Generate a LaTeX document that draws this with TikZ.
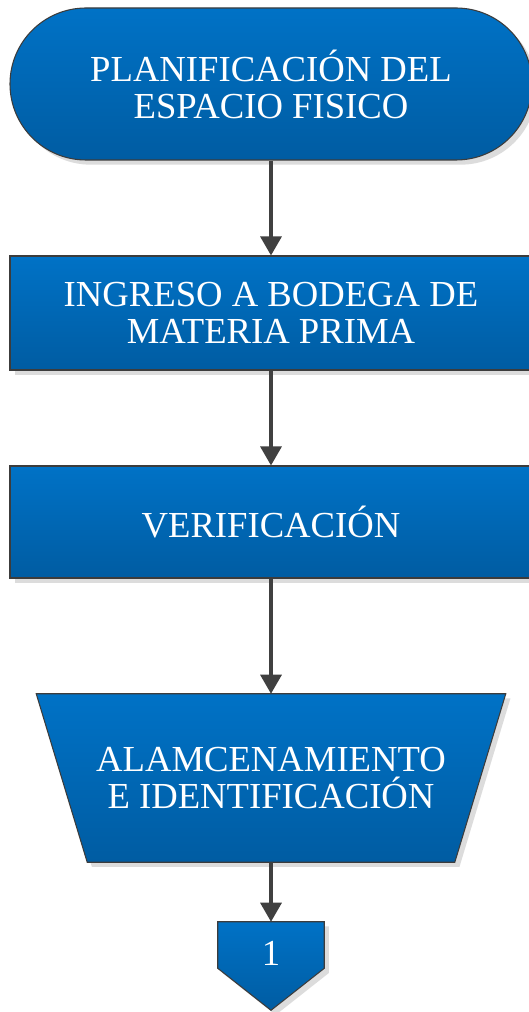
\documentclass[tikz,border=0pt]{standalone}
\usepackage{fontspec}
\setmainfont{Liberation Serif}
\usetikzlibrary{arrows.meta,shadows,backgrounds,calc}
\definecolor{bluetop}{RGB}{0,114,198}
\definecolor{bluebot}{RGB}{0,92,162}
\definecolor{edgegray}{RGB}{60,60,60}
\definecolor{arrowgray}{RGB}{64,64,64}
\definecolor{shadowgray}{RGB}{220,220,220}
\begin{document}
\begin{tikzpicture}[x=0.75pt,y=-0.75pt,
  shp/.style={top color=bluetop,bottom color=bluebot,draw=edgegray,line width=0.8pt,
     drop shadow={shadow xshift=3.5pt,shadow yshift=-3.5pt,fill=shadowgray,opacity=1}},
  lbl/.style={text=white,align=center,font=\fontsize{27.5}{27.75}\selectfont,inner sep=0pt},
  flow/.style={draw=arrowgray,line width=2.4pt,-{Triangle[width=15.75pt,length=14.25pt]}}]
\path[use as bounding box] (0,0) rectangle (528,1012);

\node[shp,lbl,minimum width=391.5pt,minimum height=114pt,rounded corners=57pt] (n1) at (271,84) {PLANIFICACIÓN DEL\\ESPACIO FISICO};
\node[shp,lbl,minimum width=391.5pt,minimum height=85.5pt] (n2) at (271,313) {INGRESO A BODEGA DE\\MATERIA PRIMA};
\node[shp,lbl,minimum width=391.5pt,minimum height=84pt] (n3) at (271,522) {VERIFICACIÓN};
\node[lbl,minimum width=351.75pt,minimum height=126pt] (n4) at (271,778) {ALAMCENAMIENTO\\E IDENTIFICACIÓN};
\node[lbl,minimum width=79.5pt,minimum height=34.5pt] (n5) at (271,945) {\smash{\raisebox{-15pt}{1}}};

\begin{scope}[on background layer]
  \fill[white] (0,0) rectangle (528,1012);
  \path[shp] (n4.north west) -- (n4.north east) -- ($(n4.south east)+(-51,0)$) -- ($(n4.south west)+(51,0)$) -- cycle;
  \path[shp] (n5.north west) -- (n5.north east) -- (n5.south east) -- ($(n5.south)+(0,42)$) -- (n5.south west) -- cycle;
\end{scope}

\draw[flow] (n1.south) -- (n2.north);
\draw[flow] (n2.south) -- (n3.north);
\draw[flow] (n3.south) -- (n4.north);
\draw[flow] (n4.south) -- (n5.north);
\end{tikzpicture}
\end{document}
